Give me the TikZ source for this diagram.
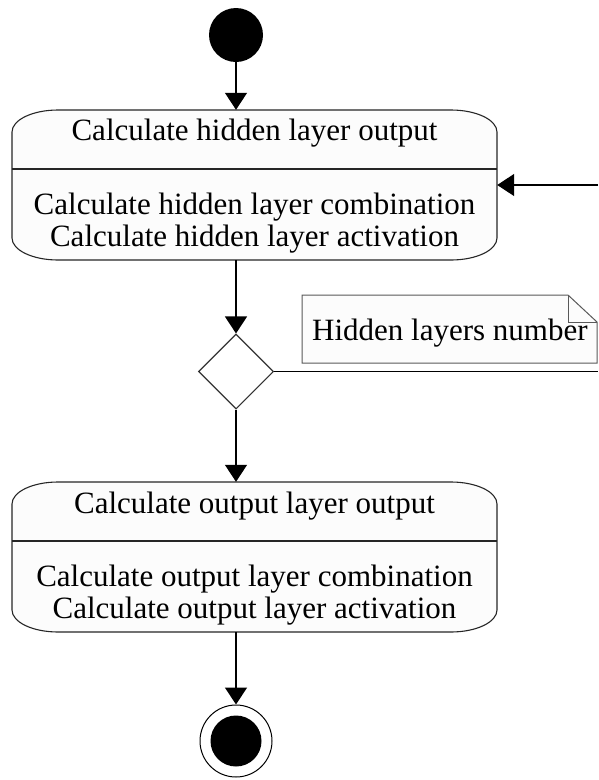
\documentclass[tikz,border=0pt]{standalone}
\usepackage{fontspec}
\setmainfont{Liberation Serif}
\usetikzlibrary{arrows.meta,shapes.geometric}
\begin{document}
\begin{tikzpicture}[x=1pt,y=-1pt,
  txt/.style={font=\fontsize{31}{32}\selectfont, inner sep=0pt, anchor=base},
  flow/.style={draw=black, line width=1.4pt, -{Triangle[width=22pt,length=17pt]}},
  plain/.style={draw=black, line width=1.4pt},
  frame/.style={draw=black!85, line width=1.1pt, fill=black!1},
  boxarea/.style={rectangle, minimum width=485pt, minimum height=150pt, inner sep=0pt}
]
\useasboundingbox (0,0) rectangle (598,780);

% start node
\node[circle, fill=black, minimum size=54pt, inner sep=0pt] (start) at (236,35) {};

% activity 1: rounded frame with elliptical corners (rx 46, ry 22)
\node[boxarea] (act1) at (254.5,185) {};
\path[frame] (12,132) .. controls (12,119.85) and (32.6,110) .. (58,110)
  -- (451,110) .. controls (476.4,110) and (497,119.85) .. (497,132)
  -- (497,238) .. controls (497,250.15) and (476.4,260) .. (451,260)
  -- (58,260) .. controls (32.6,260) and (12,250.15) .. (12,238) -- cycle;
\draw[draw=black!85, line width=1.1pt] (12,169) -- (497,169);
\node[txt] (t1) at (254.5,140) {Calculate hidden layer output};
\node[txt] (b1a) at (254.5,214) {Calculate hidden layer combination};
\node[txt] (b1b) at (254.5,246) {Calculate hidden layer activation};

% decision
\node[diamond, draw=black!80, line width=1.1pt, fill=white, minimum width=75pt, minimum height=75pt, inner sep=0pt] (dec) at (236,371.5) {};

% note with folded corner
\path[draw=black!65, line width=1pt, fill=black!1] (302,295) -- (568,295) -- (597,322) -- (597,363) -- (302,363) -- cycle;
\draw[draw=black!65, line width=1pt] (568,295) -- (568,322) -- (597,322);
\node[txt, anchor=base west] (note) at (312,340) {Hidden layers number};

% activity 2
\node[boxarea] (act2) at (254.5,557) {};
\path[frame] (12,504) .. controls (12,491.85) and (32.6,482) .. (58,482)
  -- (451,482) .. controls (476.4,482) and (497,491.85) .. (497,504)
  -- (497,610) .. controls (497,622.15) and (476.4,632) .. (451,632)
  -- (58,632) .. controls (32.6,632) and (12,622.15) .. (12,610) -- cycle;
\draw[draw=black!85, line width=1.1pt] (12,541) -- (497,541);
\node[txt] (t2) at (254.5,513) {Calculate output layer output};
\node[txt] (b2a) at (254.5,586) {Calculate output layer combination};
\node[txt] (b2b) at (254.5,618) {Calculate output layer activation};

% final node
\node[circle, draw=black, line width=1pt, fill=white, minimum size=72pt, inner sep=0pt] (final) at (236,741) {};
\node[circle, fill=black, minimum size=51pt, inner sep=0pt] (finalin) at (final.center) {};

% loop ends, running off the right edge
\coordinate (loopout) at (598,371.5);
\coordinate (loopin) at (598,185);

% connectors
\draw[flow] (start) -- (start |- act1.north);
\draw[flow] (act1.south -| dec) -- (dec.north);
\draw[flow] (dec.south) -- (dec |- act2.north);
\draw[flow] (act2.south -| final) -- (final.north);
\draw[plain] (dec.east) -- (loopout);
\draw[flow] (loopin) -- (act1.east);
\end{tikzpicture}
\end{document}
